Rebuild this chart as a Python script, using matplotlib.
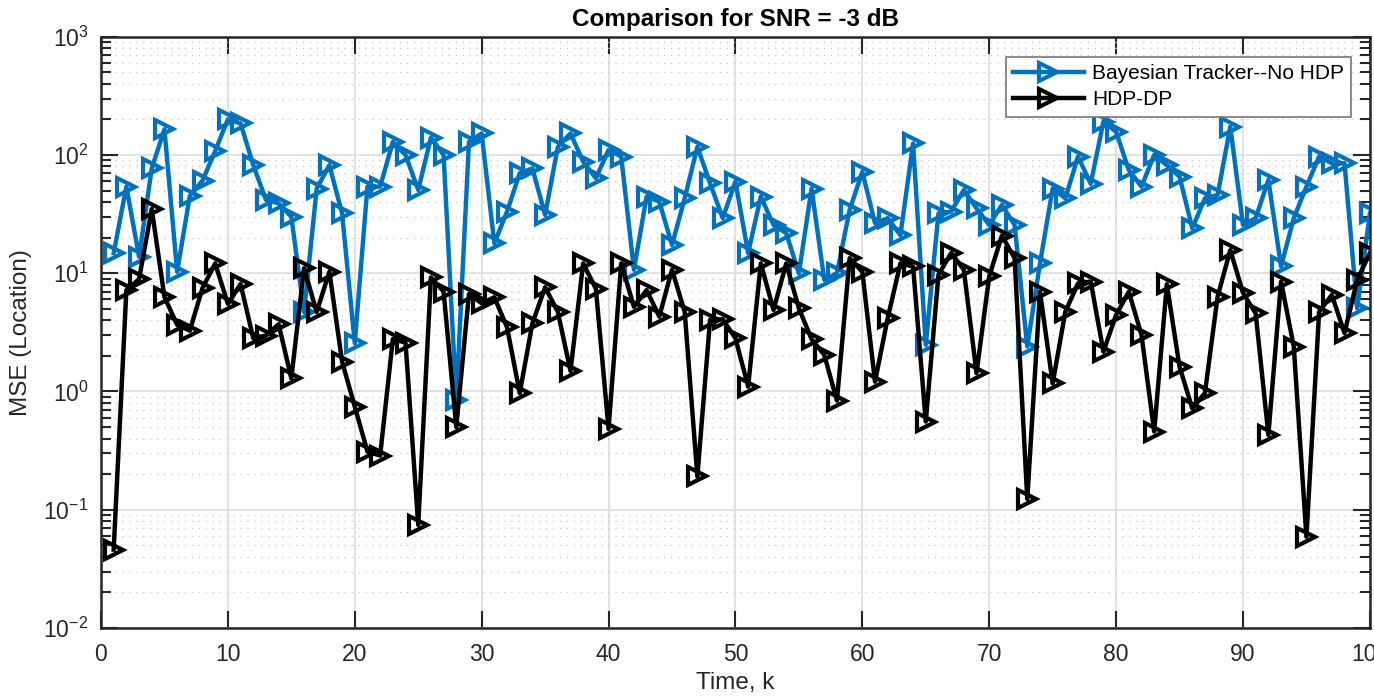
# MSE comparison plot for SNR = -3 dB
# Bayesian tracker without HDP vs the HDP-DP tracker, log scale
import numpy as np
import matplotlib
matplotlib.use('Agg')
import matplotlib.pyplot as plt
from matplotlib.ticker import LogLocator, NullFormatter, MultipleLocator

# Settings
plt.rcParams['font.family'] = ['Liberation Sans', 'DejaVu Sans']
plt.rcParams['mathtext.default'] = 'regular'

# Data
time_k = list(range(1, 101))

mse_bayes = [14.8, 54, 13.8, 77, 165, 10.3, 45, 60.6, 108, 200,
             185, 82, 41.7, 39, 30, 4.7, 52, 82, 32, 2.56,
             54, 54, 129, 100, 50.6, 140, 100, 0.85, 129, 152,
             17.9, 33.2, 70, 77, 31.1, 117, 152, 88, 63.5, 110,
             97, 10.7, 44.5, 40.3, 17.3, 43, 117, 57.7, 29.2, 59.6,
             14.8, 44.5, 25.6, 21.8, 10, 52, 8.8, 10, 34.3, 72,
             26.5, 29.2, 21, 125, 2.48, 32, 33.2, 50.6, 35.4, 25.6,
             37.8, 25.6, 2.4, 12.1, 52, 43, 97, 57, 191, 157,
             74.5, 54, 100, 82, 65.6, 24, 43, 45.9, 173, 25.6,
             29.2, 61.5, 11.4, 29.2, 54, 97, 85, 85, 5.06, 32]

mse_hdp = [0.046, 7.2, 8.9, 35, 6.3, 3.66, 3.27, 7.5, 12.1, 5.5,
           8.1, 2.82, 2.97, 3.7, 1.29, 11.0, 4.7, 10.3, 1.79, 0.745,
           0.31, 0.287, 2.77, 2.59, 0.0745, 9.2, 6.98, 0.50, 6.68, 5.57,
           6.26, 3.49, 0.968, 3.78, 7.6, 4.73, 1.49, 12.1, 7.4, 0.483,
           12.1, 5.2, 7.2, 4.3, 10.7, 4.73, 0.191, 4.03, 4.08, 2.82,
           1.10, 12.1, 4.89, 12.1, 5.05, 2.77, 2.04, 0.837, 13.4, 10.3,
           1.21, 4.17, 12.1, 11.4, 0.557, 9.7, 14.8, 10.7, 1.43, 9.4,
           20.8, 13.4, 0.123, 6.98, 1.17, 4.73, 8.2, 8.5, 2.17, 4.44,
           6.98, 3.01, 0.458, 8.06, 1.62, 0.72, 0.97, 6.34, 15.7, 6.83,
           4.57, 0.43, 8.5, 2.4, 0.059, 4.73, 6.56, 3.11, 8.8, 14.8]

blue = '#0072BD'
txt = '#262626'

fig = plt.figure(figsize=(13.74, 6.99), dpi=100)
ax = fig.add_axes([0.0735, 0.1016, 0.9235, 0.8459])

ax.plot(time_k, mse_bayes, color=blue, lw=3.2, marker='>', ms=12.5,
        mew=3, mfc='none', label='Bayesian Tracker--No HDP')
ax.plot(time_k, mse_hdp, color='black', lw=3.2, marker='>', ms=12.5,
        mew=3, mfc='none', label='HDP-DP')

ax.set_yscale('log')
ax.set_xlim(0, 100)
ax.set_ylim(1e-2, 1e3)
ax.xaxis.set_major_locator(MultipleLocator(10))
ax.yaxis.set_major_locator(LogLocator(base=10, numticks=10))
ax.yaxis.set_minor_locator(LogLocator(base=10, subs=np.arange(2, 10), numticks=20))
ax.yaxis.set_minor_formatter(NullFormatter())

# grid like matlab: solid majors, dotted minors
ax.grid(True, which='major', color='#dddddd', lw=1.2, ls='-')
ax.grid(True, which='minor', axis='y', color='#cccccc', lw=1.0, ls=(0, (1, 4)))
ax.set_axisbelow(True)

ax.tick_params(which='both', direction='in', top=True, right=True,
               colors=txt, labelsize=16.5, width=1.5)
ax.tick_params(which='major', length=12)
ax.tick_params(axis='x', which='major', pad=11)
ax.tick_params(axis='y', which='major', pad=9)
ax.tick_params(which='minor', length=7)
for s in ax.spines.values():
    s.set_linewidth(1.8)
    s.set_color(txt)

ax.set_xlabel('Time, k', fontsize=17.5, color=txt, labelpad=4)
ax.set_ylabel('MSE (Location)', fontsize=17.5, color=txt, labelpad=8)
ax.set_title('Comparison for SNR = -3 dB', fontsize=17.5, fontweight='bold', pad=8)

leg = ax.legend(loc='upper right', bbox_to_anchor=(0.9855, 0.966), fontsize=15,
                handlelength=3.4, fancybox=False, framealpha=1,
                borderpad=0.35, labelspacing=0.35, handletextpad=0.4,
                borderaxespad=0)
leg.get_frame().set_edgecolor('#777777')
leg.get_frame().set_linewidth(1.2)

fig.savefig('out.png', dpi=100)
